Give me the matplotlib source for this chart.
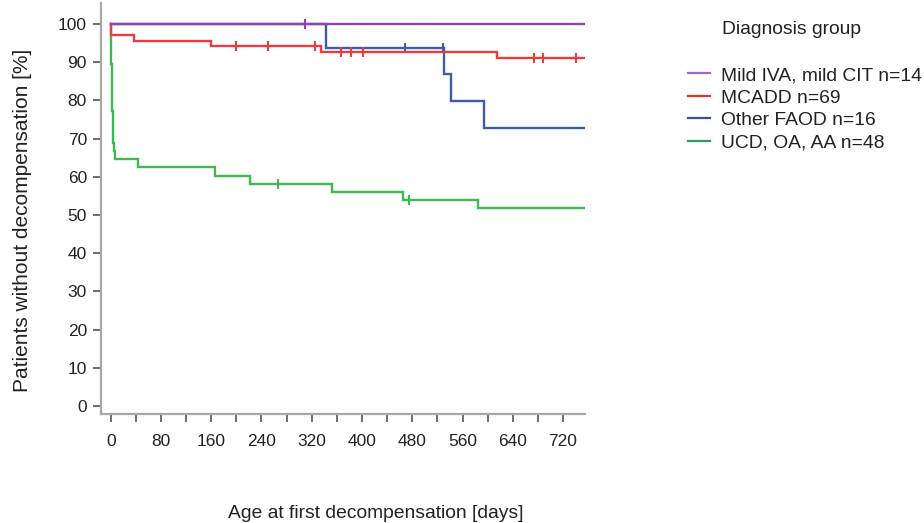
import matplotlib
matplotlib.use("Agg")
import matplotlib.pyplot as plt
import numpy as np
from matplotlib.lines import Line2D

plt.rcParams['font.family'] = ['Liberation Sans', 'DejaVu Sans']

# ---- data ----
group_labels = ["Mild IVA, mild CIT n=14", "MCADD n=69", "Other FAOD n=16", "UCD, OA, AA n=48"]

mild_t = [0, 757]
mild_s = [100, 100]
mild_censor = [309]

mcadd_t = [0, 1, 37, 159, 334, 615, 757]
mcadd_s = [100, 97.1, 95.65, 94.2, 92.75, 91.1, 91.1]
mcadd_censor = [199, 250, 325, 366, 383, 401, 674, 688, 741]

faod_t = [0, 342, 530, 541, 594, 757]
faod_s = [100, 93.75, 86.8, 79.8, 72.7, 72.7]
faod_censor = [468, 529]

ucd_t = [0, 0.2, 0.45, 0.7, 0.95, 1.2, 1.45, 1.7, 1.95, 2.2, 2.45, 2.7, 2.95,
         3.2, 3.45, 3.7, 5, 7, 43, 166, 221, 352, 465, 585, 757]
ucd_s = [100, 97.9, 95.8, 93.8, 91.7, 89.6, 87.5, 85.4, 83.3, 81.3, 79.2, 77.1, 75.0,
         72.9, 70.8, 68.8, 66.7, 64.6, 62.5, 60.3, 58.2, 56.1, 54.0, 51.8, 51.8]
ucd_censor = [266, 475]

x_major = list(range(0, 721, 80))
x_minor = list(range(40, 721, 80))
y_ticks = list(range(0, 101, 10))

line_colors = ["#8e44b0", "#ec3b3b", "#3f5bb0", "#3cba52"]
legend_colors = ["#9a6cc6", "#e8342f", "#3a4fa0", "#2e9a5e"]
zorders = [3.6, 3.3, 3.2, 3.1]

series = [
    (mild_t, mild_s, mild_censor),
    (mcadd_t, mcadd_s, mcadd_censor),
    (faod_t, faod_s, faod_censor),
    (ucd_t, ucd_s, ucd_censor),
]

W, H = 924, 523
fig = plt.figure(figsize=(W / 100, H / 100), dpi=100)
ax_l, ax_r, ax_t, ax_b = 101, 585, 3, 414
ax = fig.add_axes([ax_l / W, 1 - ax_b / H, (ax_r - ax_l) / W, (ax_b - ax_t) / H])


def surv_at(t, s, x):
    idx = np.searchsorted(np.asarray(t), x, side='right') - 1
    return np.asarray(s)[idx]


for (t, s, c), col, z in zip(series, line_colors, zorders):
    ax.step(t, s, where='post', color=col, lw=1.7, solid_joinstyle='miter', zorder=z)
    ax.plot(c, surv_at(t, s, c), ls='none', marker='|', ms=7, mew=1.5, color=col, zorder=z + 0.05)

ax.set_xlim(-15.5, 755)
ax.set_ylim(-2.1, 105.5)

ax.set_xticks(x_major)
ax.set_xticks(x_minor, minor=True)
ax.set_yticks(y_ticks)

for sp in ['top', 'right']:
    ax.spines[sp].set_visible(False)
for sp in ['left', 'bottom']:
    ax.spines[sp].set_color('#a8a8a8')
    ax.spines[sp].set_linewidth(1.6)

ax.tick_params(axis='both', which='both', direction='out', length=5.8, width=1.2,
               color='#555555', labelcolor='#222222', labelsize=12.5)
ax.tick_params(axis='x', pad=8.5)
ax.tick_params(axis='y', pad=4.3)

ax.set_xlabel("Age at first decompensation [days]", fontsize=13.9, color='#222222')
ax.xaxis.set_label_coords((375.7 - ax_l) / (ax_r - ax_l), (ax_b - 514) / (ax_b - ax_t))
ax.xaxis.label.set_va('center')
ax.set_ylabel("Patients without decompensation [%]", fontsize=15, color='#222222')
ax.yaxis.set_label_coords((23 - ax_l) / (ax_r - ax_l), (ax_b - 220) / (ax_b - ax_t))
ax.yaxis.label.set_va('center')

fig.text(721.7 / W, 1 - 29 / H, "Diagnosis group", fontsize=13.9, color='#222222',
         ha='left', va='center')

handles = [Line2D([0], [0], color=c, lw=1.6) for c in legend_colors]
fig.legend(handles, group_labels, loc='upper left', bbox_to_anchor=(688 / W, 1 - 66.5 / H),
           frameon=False, fontsize=13.9, handlelength=1.15, handletextpad=0.55,
           labelspacing=0.26, borderpad=0, borderaxespad=0, labelcolor='#222222')

fig.savefig("out.png", dpi=100)
